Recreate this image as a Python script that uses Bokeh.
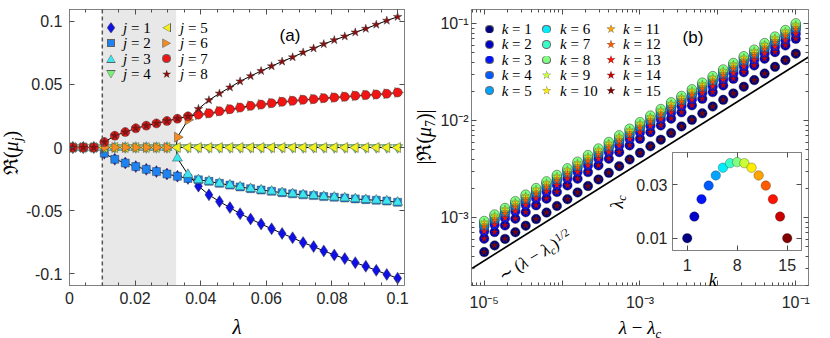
from math import pi
from bokeh.plotting import figure
from bokeh.models import (Range1d, LinearAxis, LogAxis, FixedTicker, SingleIntervalTicker,
                          CustomJSTickFormatter, BoxAnnotation, Span, Div)
from bokeh.layouts import row
from bokeh.embed import file_html
from bokeh.resources import INLINE

# ---------------- panel (a) data ----------------
lam = [0.001, 0.0042, 0.0074, 0.0106, 0.0138, 0.017, 0.0202, 0.0234, 0.0265, 0.0297,
       0.0329, 0.0361, 0.0393, 0.0425, 0.0457, 0.0489, 0.052, 0.0552, 0.0584, 0.0616,
       0.0648, 0.068, 0.0712, 0.0744, 0.0775, 0.0807, 0.0839, 0.0871, 0.0903, 0.0935,
       0.0967, 0.1]
re_j1 = [0, 0, 0, -0.0045, -0.0093, -0.0123, -0.0151, -0.0173, -0.0191, -0.021, -0.0228, -0.0245,
         -0.0306, -0.0375, -0.0428, -0.0476, -0.0524, -0.0566, -0.0606, -0.0644, -0.0681, -0.0715,
         -0.0753, -0.0785, -0.0819, -0.0851, -0.088, -0.0912, -0.0941, -0.0973, -0.1005, -0.1035]
re_j2 = [0, 0, 0, -0.0045, -0.0093, -0.0123, -0.0151, -0.0173, -0.0191, -0.021, -0.0228, -0.0245,
         -0.0256, -0.0268, -0.0284, -0.0298, -0.0312, -0.0326, -0.0337, -0.0347, -0.0358, -0.0367,
         -0.0375, -0.0381, -0.0389, -0.0394, -0.04, -0.0407, -0.0413, -0.0418, -0.0424, -0.0434]
re_j3 = [0, 0, 0, 0, 0, 0, 0, 0, 0, 0, -0.0085, -0.0214,
         -0.0256, -0.0268, -0.0284, -0.0298, -0.0312, -0.0326, -0.0337, -0.0347, -0.0358, -0.0367,
         -0.0375, -0.0381, -0.0389, -0.0394, -0.04, -0.0407, -0.0413, -0.0418, -0.0424, -0.0434]
re_j4 = [0] * 32
re_j5 = [0] * 32
re_j6 = [0, 0, 0, 0, 0, 0, 0, 0, 0, 0, 0.0082, 0.0219,
         0.026, 0.0271, 0.0287, 0.0303, 0.0316, 0.033, 0.034, 0.0351, 0.0362, 0.037,
         0.0378, 0.0383, 0.0391, 0.0396, 0.0402, 0.041, 0.0415, 0.042, 0.0426, 0.0436]
re_j7 = [0, 0, 0, 0.0043, 0.0093, 0.0122, 0.0152, 0.0173, 0.0191, 0.021, 0.0228, 0.0247,
         0.026, 0.0271, 0.0287, 0.0303, 0.0316, 0.033, 0.034, 0.0351, 0.0362, 0.037,
         0.0378, 0.0383, 0.0391, 0.0396, 0.0402, 0.041, 0.0415, 0.042, 0.0426, 0.0436]
re_j8 = [0, 0, 0, 0.0043, 0.0093, 0.0122, 0.0152, 0.0173, 0.0191, 0.021, 0.0228, 0.0247,
         0.0306, 0.0375, 0.0428, 0.0476, 0.0524, 0.0566, 0.0606, 0.0644, 0.0681, 0.0715,
         0.0753, 0.0785, 0.0819, 0.0851, 0.088, 0.0912, 0.0941, 0.0973, 0.1005, 0.1035]
lam_c1 = 0.01      # dashed line / first branching
lam_c2 = 0.0325    # end of shaded band / second branching
yticks_a = [-0.1, -0.05, 0, 0.05, 0.1]
j_labels = [1, 2, 3, 4, 5, 6, 7, 8]

# ---------------- panel (b) data ----------------
dlam = [1.0e-5, 1.36e-5, 1.85e-5, 2.51e-5, 3.41e-5, 4.64e-5, 6.31e-5, 8.58e-5, 1.17e-4, 1.58e-4,
        2.15e-4, 2.93e-4, 3.98e-4, 5.41e-4, 7.36e-4, 1.0e-3, 1.36e-3, 1.85e-3, 2.51e-3, 3.41e-3,
        4.64e-3, 6.31e-3, 8.58e-3, 1.17e-2, 1.58e-2, 2.15e-2, 2.93e-2, 3.98e-2, 5.41e-2, 7.36e-2, 0.1]
mu_k1 = [4.42e-4, 5.17e-4, 6.04e-4, 7.08e-4, 8.28e-4, 9.68e-4, 1.13e-3, 1.32e-3, 1.55e-3, 1.82e-3,
         2.12e-3, 2.48e-3, 2.90e-3, 3.40e-3, 3.98e-3, 4.66e-3, 5.45e-3, 6.37e-3, 7.46e-3, 8.73e-3,
         1.02e-2, 1.19e-2, 1.40e-2, 1.64e-2, 1.91e-2, 2.24e-2, 2.62e-2, 3.06e-2, 3.59e-2, 4.20e-2, 4.91e-2]
mu_k2 = [6.07e-4, 7.11e-4, 8.32e-4, 9.75e-4, 1.14e-3, 1.34e-3, 1.57e-3, 1.84e-3, 2.15e-3, 2.52e-3,
         2.95e-3, 3.46e-3, 4.05e-3, 4.74e-3, 5.56e-3, 6.51e-3, 7.62e-3, 8.93e-3, 1.05e-2, 1.22e-2,
         1.44e-2, 1.68e-2, 1.97e-2, 2.31e-2, 2.70e-2, 3.16e-2, 3.71e-2, 4.35e-2, 5.09e-2, 5.96e-2, 6.98e-2]
mu_k3 = [7.23e-4, 8.45e-4, 9.88e-4, 1.16e-3, 1.35e-3, 1.58e-3, 1.85e-3, 2.16e-3, 2.52e-3, 2.95e-3,
         3.45e-3, 4.04e-3, 4.72e-3, 5.52e-3, 6.46e-3, 7.55e-3, 8.82e-3, 1.03e-2, 1.21e-2, 1.41e-2,
         1.65e-2, 1.93e-2, 2.25e-2, 2.64e-2, 3.08e-2, 3.61e-2, 4.22e-2, 4.93e-2, 5.76e-2, 6.73e-2, 7.87e-2]
mu_k4 = [7.95e-4, 9.30e-4, 1.09e-3, 1.27e-3, 1.49e-3, 1.74e-3, 2.03e-3, 2.38e-3, 2.77e-3, 3.25e-3,
         3.80e-3, 4.44e-3, 5.19e-3, 6.07e-3, 7.11e-3, 8.31e-3, 9.70e-3, 1.13e-2, 1.33e-2, 1.55e-2,
         1.82e-2, 2.12e-2, 2.48e-2, 2.90e-2, 3.39e-2, 3.97e-2, 4.64e-2, 5.42e-2, 6.34e-2, 7.40e-2, 8.66e-2]
mu_k5 = [8.39e-4, 9.80e-4, 1.15e-3, 1.35e-3, 1.57e-3, 1.83e-3, 2.15e-3, 2.51e-3, 2.92e-3, 3.42e-3,
         4.00e-3, 4.69e-3, 5.48e-3, 6.40e-3, 7.49e-3, 8.76e-3, 1.02e-2, 1.19e-2, 1.40e-2, 1.64e-2,
         1.91e-2, 2.24e-2, 2.61e-2, 3.06e-2, 3.57e-2, 4.19e-2, 4.90e-2, 5.72e-2, 6.68e-2, 7.81e-2, 9.13e-2]
mu_k6 = [8.82e-4, 1.03e-3, 1.21e-3, 1.42e-3, 1.65e-3, 1.93e-3, 2.26e-3, 2.64e-3, 3.07e-3, 3.60e-3,
         4.21e-3, 4.93e-3, 5.76e-3, 6.73e-3, 7.88e-3, 9.21e-3, 1.08e-2, 1.26e-2, 1.48e-2, 1.72e-2,
         2.01e-2, 2.35e-2, 2.75e-2, 3.22e-2, 3.76e-2, 4.40e-2, 5.15e-2, 6.01e-2, 7.03e-2, 8.21e-2, 9.60e-2]
mu_k7 = [9.04e-4, 1.06e-3, 1.24e-3, 1.45e-3, 1.69e-3, 1.98e-3, 2.31e-3, 2.70e-3, 3.15e-3, 3.69e-3,
         4.31e-3, 5.05e-3, 5.90e-3, 6.90e-3, 8.08e-3, 9.44e-3, 1.10e-2, 1.29e-2, 1.51e-2, 1.76e-2,
         2.06e-2, 2.41e-2, 2.81e-2, 3.30e-2, 3.85e-2, 4.51e-2, 5.28e-2, 6.16e-2, 7.20e-2, 8.41e-2, 9.84e-2]
mu_k8 = [9.25e-4, 1.08e-3, 1.26e-3, 1.48e-3, 1.73e-3, 2.02e-3, 2.37e-3, 2.76e-3, 3.23e-3, 3.78e-3,
         4.42e-3, 5.17e-3, 6.04e-3, 7.07e-3, 8.27e-3, 9.66e-3, 1.13e-2, 1.32e-2, 1.55e-2, 1.80e-2,
         2.11e-2, 2.47e-2, 2.88e-2, 3.38e-2, 3.94e-2, 4.62e-2, 5.40e-2, 6.31e-2, 7.37e-2, 8.61e-2, 1.01e-1]
# k and 16-k coincide
mu_by_k = [mu_k1, mu_k2, mu_k3, mu_k4, mu_k5, mu_k6, mu_k7, mu_k8,
           mu_k7, mu_k6, mu_k5, mu_k4, mu_k3, mu_k2, mu_k1]
k_values = list(range(1, 16))
lam_c_k = [0.01, 0.0181, 0.0246, 0.0297, 0.0335, 0.0364, 0.0381, 0.0385,
           0.0381, 0.0364, 0.0335, 0.0297, 0.0246, 0.0181, 0.01]
guide_x = [6.87e-6, 0.1456]
guide_y = [2.98e-4, 0.0453]
xticks_b = [1e-5, 1e-4, 1e-3, 1e-2, 1e-1]
yticks_b = [1e-4, 1e-3, 1e-2, 1e-1]
kticks_inset = [1, 8, 15]
lcticks_inset = [0.01, 0.03]

# ---------------- style ----------------
SANS = "Liberation Sans"
SERIF = "Liberation Serif"
FRAME = "#808080"
TICKC = "#4d4d4d"
TXT = "#262626"
j_colors = ["#1010E6", "#1E82F0", "#3CE6F0", "#78F078", "#F0F01E", "#F58C23", "#F01414", "#8C0F0F"]
j_shapes = ["diamond", "square", "tri_up", "tri_down", "tri_left", "tri_right", "circle", "star"]
k_colors = ["#000080", "#0000C8", "#0012FF", "#005BFF", "#00A4FF", "#00EDFF", "#36FFC8", "#80FF80",
            "#C8FF36", "#FFED00", "#FFA400", "#FF5B00", "#FF1200", "#C80000", "#800000"]

num_fmt = CustomJSTickFormatter(code="return String(Math.round(tick*1000)/1000);")
blank_fmt = CustomJSTickFormatter(code="return '';")
SUP = "const s={'-':'\u207b','0':'\u2070','1':'\u00b9','2':'\u00b2','3':'\u00b3','4':'\u2074','5':'\u2075'};"
logx_fmt = CustomJSTickFormatter(code=SUP + "const e=Math.round(Math.log10(tick)); if (Math.abs(e)%2==0) return ''; return '10'+String(e).split('').map(c=>s[c]).join('');")
logy_fmt = CustomJSTickFormatter(code=SUP + "const e=Math.round(Math.log10(tick)); return '10'+String(e).split('').map(c=>s[c]).join('');")


def style_axis(ax, labels=True, size="16px", standoff=5):
    ax.axis_label = None
    ax.axis_label_standoff = 0
    ax.axis_line_color = FRAME
    ax.major_tick_line_color = TICKC
    ax.minor_tick_line_color = TICKC
    ax.major_tick_in = 5
    ax.major_tick_out = 0
    ax.minor_tick_in = 3
    ax.minor_tick_out = 0
    ax.major_label_text_font = SANS
    ax.major_label_text_color = TXT
    if labels:
        ax.major_label_text_font_size = size
        ax.major_label_standoff = standoff
    else:
        ax.major_label_text_font_size = "0px"
        ax.major_label_standoff = 0
        ax.formatter = blank_fmt


def base_fig(**kw):
    p = figure(output_backend="svg", toolbar_location=None, **kw)
    p.grid.visible = False
    p.outline_line_color = FRAME
    p.outline_line_width = 1
    p.background_fill_color = "white"
    p.border_fill_color = "white"
    return p


# NB: plots in one row share their top (9 px) and bottom (53 px) borders.
# ================= panel (a) =================
pa = base_fig(width=420, height=338, x_range=Range1d(0, 0.1021), y_range=Range1d(-0.1093, 0.1093),
              min_border_left=69, min_border_right=16, min_border_top=9, min_border_bottom=53)
pa.xaxis.ticker = SingleIntervalTicker(interval=0.02, num_minor_ticks=4)
pa.yaxis.ticker = FixedTicker(ticks=yticks_a, minor_ticks=[])
pa.xaxis.formatter = num_fmt
pa.yaxis.formatter = num_fmt
style_axis(pa.xaxis[0], standoff=6)
style_axis(pa.yaxis[0], standoff=7)
ta = LinearAxis(ticker=SingleIntervalTicker(interval=0.02, num_minor_ticks=4))
ra = LinearAxis(ticker=FixedTicker(ticks=yticks_a, minor_ticks=[]))
style_axis(ta, labels=False)
style_axis(ra, labels=False)
pa.add_layout(ta, "above")
pa.add_layout(ra, "right")

pa.add_layout(BoxAnnotation(left=lam_c1, right=lam_c2, fill_color="#e8e8e8", fill_alpha=1,
                            line_alpha=0, level="underlay"))
pa.add_layout(Span(location=lam_c1, dimension="height", line_color="#555555", line_width=1.5,
                   line_dash="4 3"))

pa.line(lam, re_j5, line_color="black", line_width=1)
pa.line([lam_c1] + lam[3:], [0] + re_j7[3:], line_color="black", line_width=1)
pa.line([lam_c1] + lam[3:], [0] + re_j2[3:], line_color="black", line_width=1)
pa.line([lam_c2] + lam[10:12] + lam[12:], [0] + re_j6[10:12] + re_j8[12:], line_color="black", line_width=1)
pa.line([lam_c2] + lam[10:12] + lam[12:], [0] + re_j3[10:12] + re_j1[12:], line_color="black", line_width=1)

edge = dict(line_color="#333333", line_alpha=0.55, line_width=0.8)
pa.scatter(lam, re_j1, marker="diamond", size=12, fill_color=j_colors[0], **edge)
pa.scatter(lam, re_j2, marker="square", size=8, fill_color=j_colors[1], **edge)
pa.scatter(lam, re_j3, marker="triangle", size=10, fill_color=j_colors[2], **edge)
pa.scatter(lam, re_j4, marker="inverted_triangle", size=10, fill_color=j_colors[3], **edge)
pa.scatter(lam, re_j5, marker="triangle", angle=pi / 2, size=10, fill_color=j_colors[4], **edge)
pa.scatter(lam, re_j6, marker="triangle", angle=-pi / 2, size=10, fill_color=j_colors[5], **edge)
pa.scatter(lam, re_j7, marker="circle", size=9, fill_color=j_colors[6], **edge)
pa.scatter(lam, re_j8, marker="star", size=9, fill_color=j_colors[7], **edge)

# ================= panel (b) =================
pb = base_fig(width=410, height=338, x_axis_type="log", y_axis_type="log",
              x_range=Range1d(6.87e-6, 0.1456), y_range=Range1d(2.0e-4, 0.140),
              min_border_left=51, min_border_right=22, min_border_top=9, min_border_bottom=53)
minor_x = [m * t for t in [1e-6] + xticks_b for m in range(2, 10)]
minor_y = [m * t for t in [1e-5] + yticks_b for m in range(2, 10)]
pb.xaxis.ticker = FixedTicker(ticks=xticks_b, minor_ticks=minor_x)
pb.yaxis.ticker = FixedTicker(ticks=yticks_b, minor_ticks=minor_y)
pb.xaxis.formatter = logx_fmt
pb.yaxis.formatter = logy_fmt
style_axis(pb.xaxis[0], standoff=8)
style_axis(pb.yaxis[0], standoff=3)
tb = LogAxis(ticker=FixedTicker(ticks=xticks_b, minor_ticks=minor_x))
rb = LogAxis(ticker=FixedTicker(ticks=yticks_b, minor_ticks=minor_y))
style_axis(tb, labels=False)
style_axis(rb, labels=False)
pb.add_layout(tb, "above")
pb.add_layout(rb, "right")

pb.line(guide_x, guide_y, line_color="black", line_width=1.6)
for k, mu, col in zip(k_values, mu_by_k, k_colors):
    if k <= 8:
        pb.scatter(dlam, mu, marker="circle", size=9.5, fill_color=col,
                   line_color="#1a1a1a", line_alpha=0.6, line_width=0.7)
    else:
        pb.scatter(dlam, mu, marker="star", size=7.5, fill_color=col,
                   line_color="#333333", line_alpha=0.5, line_width=0.5)

# ================= inset (overlaps panel b through a negative margin) =================
pin = base_fig(width=194, height=160, x_range=Range1d(-1.06, 17.0), y_range=Range1d(0.0054, 0.0421),
               min_border_left=60, min_border_right=5, min_border_top=9, min_border_bottom=53,
               styles={"margin-left": "-218px", "margin-top": "143px", "flex-shrink": "0"})
pin.border_fill_alpha = 0
pin.xaxis.ticker = FixedTicker(ticks=kticks_inset, minor_ticks=[])
pin.yaxis.ticker = FixedTicker(ticks=lcticks_inset, minor_ticks=[])
style_axis(pin.xaxis[0], standoff=8)
style_axis(pin.yaxis[0], standoff=5)
ti = LinearAxis(ticker=FixedTicker(ticks=kticks_inset, minor_ticks=[]))
ri = LinearAxis(ticker=FixedTicker(ticks=lcticks_inset, minor_ticks=[]))
style_axis(ti, labels=False)
style_axis(ri, labels=False)
pin.add_layout(ti, "above")
pin.add_layout(ri, "right")
pin.scatter(k_values, lam_c_k, marker="circle", size=9.5, fill_color=k_colors,
            line_color="#1a1a1a", line_alpha=0.5, line_width=0.6)

# ================= HTML text layer (axis titles, legends, panel tags) =================
CLIP = {
    "diamond": "polygon(50% 0,100% 50%,50% 100%,0 50%)",
    "tri_up": "polygon(50% 0,100% 100%,0 100%)",
    "tri_down": "polygon(0 0,100% 0,50% 100%)",
    "tri_left": "polygon(0 50%,100% 0,100% 100%)",
    "tri_right": "polygon(0 0,100% 50%,0 100%)",
    "star": "polygon(50% 0%,61% 35%,98% 35%,68% 57%,79% 91%,50% 70%,21% 91%,32% 57%,2% 35%,39% 35%)",
}
SW_SIZE = {"diamond": (7, 10), "square": (6, 6), "tri_up": (8, 7), "tri_down": (8, 7),
           "tri_left": (7, 8), "tri_right": (7, 8), "circle": (7, 7), "star": (8, 8)}


def swatch(shape, color, cx, cy):
    w, h = SW_SIZE[shape]
    out = ""
    for ww, hh, col in ((w + 1.6, h + 1.6, "rgba(40,40,40,0.7)"), (w, h, color)):
        st = (f"position:absolute;left:{cx - ww / 2:.1f}px;top:{cy - hh / 2:.1f}px;"
              f"width:{ww:.1f}px;height:{hh:.1f}px;background:{col};")
        if shape == "circle":
            st += "border-radius:50%;"
        elif shape != "square":
            st += f"clip-path:{CLIP[shape]};"
        out += f'<div style="{st}"></div>'
    return out


def text(x, y, inner, size, font=SERIF, rot=None, anchor="translate(-50%,-50%)", extra=""):
    tr = anchor + (f" rotate({rot}deg)" if rot else "")
    return (f'<div style="position:absolute;left:{x}px;top:{y}px;transform:{tr};white-space:nowrap;'
            f"line-height:1;font-family:'{font}';font-size:{size}px;color:#000;{extra}\">{inner}</div>")


SUB = '<span style="font-size:68%;position:relative;top:0.28em">{}</span>'
SUPS = '<span style="font-size:68%;position:relative;top:-0.55em">{}</span>'
html = []
# legend (a)
for i, (j, col, shp) in enumerate(zip(j_labels, j_colors, j_shapes)):
    cx, tx = (111, 123) if i < 4 else (166.7, 180)
    cy = 22.7 + 15.5 * (i % 4)
    html.append(swatch(shp, col, cx, cy))
    html.append(text(tx, cy, f"<i>j</i> = {j}", 15, anchor="translateY(-50%)"))
# legend (b)
for i, (k, col) in enumerate(zip(k_values, k_colors)):
    c = i // 5
    cx, tx = [(489.3, 501.7), (546.7, 560), (611, 623)][c]
    cy = 24 + 15.4 * (i % 5)
    html.append(swatch("circle" if k <= 8 else "star", col, cx, cy))
    html.append(text(tx, cy, f"<i>k</i> = {k}", 15, anchor="translateY(-50%)"))
# panel tags
html.append(text(290, 30, "(a)", 17, font=SANS))
html.append(text(693, 31.7, "(b)", 17, font=SANS))
# axis titles
html.append(text(237, 322, "<i>λ</i>", 21))
html.append(text(11, 147.5, "ℜ(<i>μ</i>" + SUB.format("<i>j</i>") + ")", 20, rot=-90))
html.append(text(640, 322, "<i>λ</i> − <i>λ</i>" + SUB.format("<i>c</i>"), 19))
html.append(text(424, 132, "|ℜ(<i>μ</i>" + SUB.format("7") + ")|", 20, rot=-90))
# guide-line annotation
html.append(text(535, 251, "∼ (<i>λ</i> − <i>λ</i>" + SUB.format("<i>c</i>") + ")" + SUPS.format("1/2"),
                 17, rot=-31))
# inset titles
html.append(text(712.7, 275, "<i>k</i>", 18))
html.append(text(617, 197, "<i>λ</i>" + SUB.format("<i>c</i>"), 18, rot=-90))

overlay = Div(text='<div style="position:relative;width:830px;height:338px;">' + "".join(html) + "</div>",
              width=830, height=338, disable_math=True,
              styles={"margin-left": "-806px", "flex-shrink": "0", "pointer-events": "none"})

layout = row(pa, pb, pin, overlay)
open("out.html", "w").write(file_html(layout, INLINE))
